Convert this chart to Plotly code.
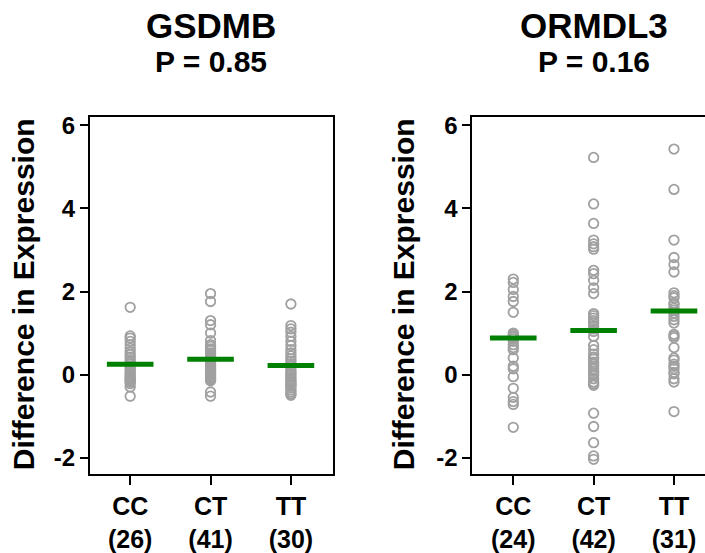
import plotly.graph_objects as go

W, H = 705, 553

genes = ["GSDMB", "ORMDL3"]
pvals = ["P = 0.85", "P = 0.16"]
genotypes = ["CC", "CT", "TT"]
counts_gsdmb = [26, 41, 30]
counts_ormdl3 = [24, 42, 31]

gsdmb_cc = [1.62, 0.93, 0.88, 0.80, 0.72, 0.63, 0.55, 0.48, 0.42, 0.36, 0.30, 0.25, 0.20,
            0.15, 0.10, 0.05, 0.00, -0.03, -0.07, -0.10, -0.12, -0.15, -0.18, -0.22, -0.30, -0.52]
gsdmb_ct = [1.95, 1.76, 1.30, 1.20, 1.00, 0.82, 0.72, 0.68, 0.62, 0.58, 0.52, 0.48, 0.45, 0.42,
            0.38, 0.35, 0.32, 0.30, 0.27, 0.25, 0.22, 0.20, 0.18, 0.15, 0.13, 0.11, 0.09, 0.07,
            0.05, 0.03, 0.01, -0.01, -0.03, -0.05, -0.07, -0.09, -0.11, -0.13, -0.15, -0.42, -0.52]
gsdmb_tt = [1.70, 1.18, 1.10, 1.02, 0.92, 0.80, 0.70, 0.60, 0.52, 0.45, 0.38, 0.32, 0.26, 0.20,
            0.14, 0.08, 0.03, 0.00, -0.05, -0.10, -0.14, -0.18, -0.22, -0.25, -0.27, -0.32, -0.37,
            -0.42, -0.46, -0.50]
gsdmb_means = [0.25, 0.37, 0.22]

ormdl3_cc = [2.30, 2.22, 2.05, 1.88, 1.76, 1.50, 1.00, 0.97, 0.93, 0.90, 0.86, 0.80, 0.72, 0.65,
             0.60, 0.40, 0.20, 0.14, -0.05, -0.33, -0.55, -0.65, -0.72, -1.27]
ormdl3_ct = [5.23, 4.11, 3.64, 3.24, 3.15, 3.08, 3.02, 2.51, 2.43, 2.27, 2.09, 1.95, 1.47, 1.42,
             1.36, 1.30, 1.24, 1.16, 1.10, 1.04, 0.92, 0.70, 0.60, 0.49, 0.42, 0.37, 0.30, 0.25,
             0.20, 0.14, 0.08, 0.03, -0.02, -0.10, -0.18, -0.22, -0.26, -0.93, -1.25, -1.64,
             -1.96, -2.04]
ormdl3_tt = [5.43, 4.46, 3.24, 2.82, 2.65, 2.47, 1.97, 1.90, 1.85, 1.72, 1.68, 1.60, 1.55, 1.48,
             1.40, 1.32, 1.24, 0.97, 0.93, 0.89, 0.65, 0.40, 0.35, 0.25, 0.20, 0.14, 0.05, 0.02,
             -0.10, -0.18, -0.89]
ormdl3_means = [0.88, 1.06, 1.53]

y_ticks = [-2, 0, 2, 4, 6]

FONT = "Liberation Sans, Arial, sans-serif"
GRAY = "rgb(160,160,160)"
GREEN = "#008000"
HALF = 0.29

fig = go.Figure()

panels = [
    ("x", "y", [gsdmb_cc, gsdmb_ct, gsdmb_tt], gsdmb_means),
    ("x2", "y2", [ormdl3_cc, ormdl3_ct, ormdl3_tt], ormdl3_means),
]
for xa, ya, groups, means in panels:
    for i, vals in enumerate(groups):
        fig.add_trace(go.Scatter(
            x=[i] * len(vals), y=vals, mode="markers", xaxis=xa, yaxis=ya,
            marker=dict(symbol="circle-open", size=9.5, color=GRAY, line=dict(width=1.8, color=GRAY)),
            hoverinfo="skip"))
    mx, my = [], []
    for i, m in enumerate(means):
        mx += [i - HALF, i + HALF, None]
        my += [m, m, None]
    fig.add_trace(go.Scatter(x=mx, y=my, mode="lines", xaxis=xa, yaxis=ya,
                             line=dict(color=GREEN, width=5), hoverinfo="skip"))

def xlabels(counts):
    return [f"{g}<br>({n})" for g, n in zip(genotypes, counts)]

common_x = dict(showline=True, linecolor="black", linewidth=2, mirror=True, ticks="outside",
                ticklen=9, tickwidth=2, tickcolor="black", showgrid=False, zeroline=False,
                tickvals=[0, 1, 2], tickfont=dict(family=FONT, size=25, color="black", weight="bold"))
common_y = dict(showline=True, linecolor="black", linewidth=2, ticks="outside", ticklen=8,
                tickwidth=2, tickcolor="black", showgrid=False, zeroline=False,
                range=[-2.4, 6.2], tickvals=y_ticks, ticktext=[str(t) for t in y_ticks],
                domain=[76 / H, 439 / H],
                tickfont=dict(family=FONT, size=24, color="black", weight="bold"))

fig.update_layout(
    width=W, height=H, margin=dict(l=0, r=0, t=0, b=0),
    paper_bgcolor="white", plot_bgcolor="white", showlegend=False,
    xaxis=dict(common_x, domain=[90 / W, 332.7 / W], range=[-0.5, 2.52],
               ticktext=xlabels(counts_gsdmb), anchor="y"),
    yaxis=dict(common_y, mirror=True, anchor="x"),
    xaxis2=dict(common_x, domain=[472.3 / W, 1.0], range=[-0.51, 2.386],
                ticktext=xlabels(counts_ormdl3), anchor="y2"),
    yaxis2=dict(common_y, mirror=False, anchor="x2"),
)

centers = [211, 593.5]
for c, g, p in zip(centers, genes, pvals):
    fig.add_annotation(x=c / W, y=1 - 21 / H, xref="paper", yref="paper", text=g,
                       showarrow=False, xanchor="center", yanchor="middle",
                       font=dict(family=FONT, size=35, color="black", weight="bold"))
    fig.add_annotation(x=c / W, y=1 - 57 / H, xref="paper", yref="paper", text=p,
                       showarrow=False, xanchor="center", yanchor="middle",
                       font=dict(family=FONT, size=30, color="black", weight="bold"))

for xc in [23, 403]:
    fig.add_annotation(x=xc / W, y=1 - 294 / H, xref="paper", yref="paper",
                       text="Difference in Expression", textangle=-90, showarrow=False,
                       xanchor="center", yanchor="middle",
                       font=dict(family=FONT, size=30, color="black", weight="bold"))

fig.write_html("out.html", config={"displayModeBar": False},
               post_script="document.body.style.margin='0';document.body.style.overflow='hidden';")
